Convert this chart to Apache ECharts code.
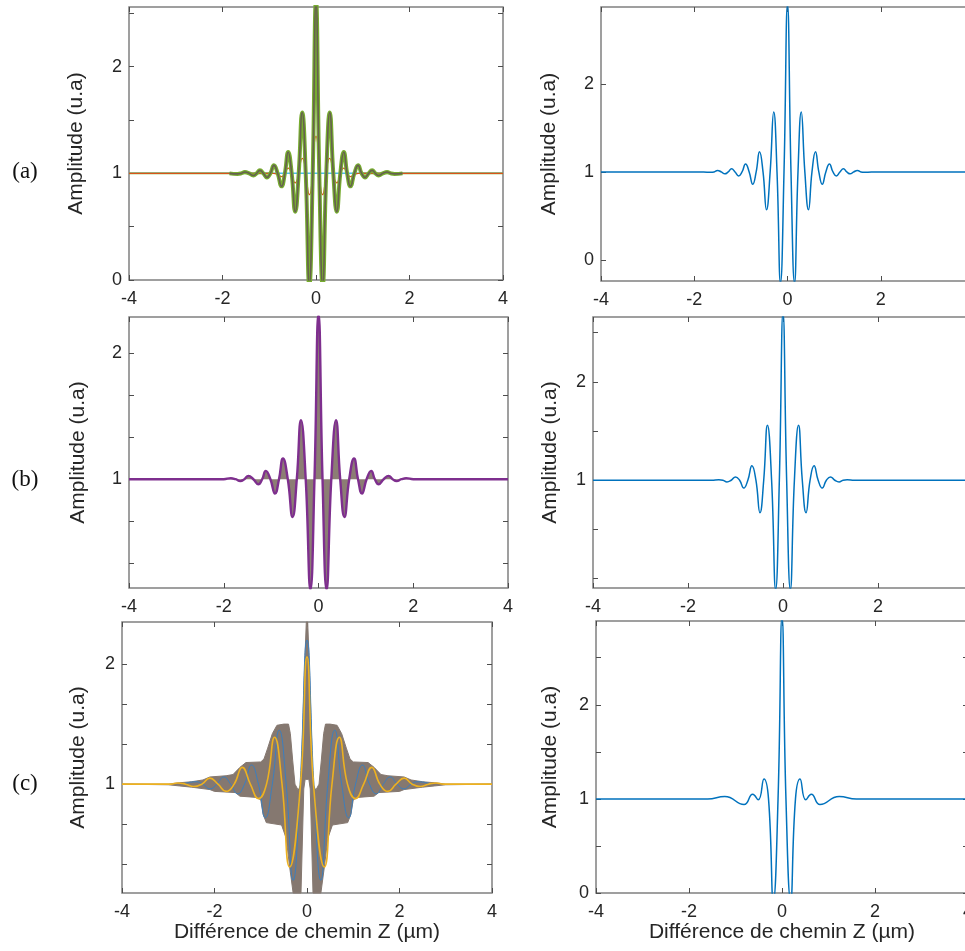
<!DOCTYPE html>
<html>
<head>
<meta charset="utf-8">
<script src="https://cdn.jsdelivr.net/npm/echarts@6.0.0/dist/echarts.min.js"></script>
<style>
  html, body { margin: 0; padding: 0; background: #fff; }
  #chart { width: 965px; height: 951px; }
</style>
</head>
<body>
<div id="chart"></div>
<script>
// ---- data (x = path difference in µm, y = amplitude) ----

// (a) left : family of curves, outer green one + inner orange one + flat blue
const aLeftOuter = [
  [-1.85, 1], [-1.68, 0.995], [-1.6, 1], [-1.52, 1.013], [-1.43, 1], [-1.34, 0.98], [-1.27, 1],
  [-1.2, 1.028], [-1.126, 1], [-1.052, 0.962], [-0.976, 1], [-0.9, 1.075], [-0.82, 1],
  [-0.737, 0.878], [-0.666, 1], [-0.595, 1.2], [-0.52, 1], [-0.445, 0.64], [-0.37, 1],
  [-0.295, 1.57], [-0.22, 1], [-0.143, -0.05], [-0.07, 1], [0, 2.62],
  [0.07, 1], [0.143, -0.05], [0.22, 1], [0.295, 1.57], [0.37, 1], [0.445, 0.64], [0.52, 1],
  [0.595, 1.2], [0.666, 1], [0.737, 0.878], [0.82, 1], [0.9, 1.075], [0.976, 1], [1.052, 0.962],
  [1.126, 1], [1.2, 1.028], [1.27, 1], [1.34, 0.98], [1.43, 1], [1.52, 1.013], [1.6, 1],
  [1.68, 0.995], [1.85, 1]
];
const aLeftInner = [
  [-4, 1], [-0.9, 1], [-0.737, 0.97], [-0.595, 1.05], [-0.445, 0.91], [-0.295, 1.14],
  [-0.143, 0.8], [0, 1.35], [0.143, 0.8], [0.295, 1.14], [0.445, 0.91], [0.595, 1.05],
  [0.737, 0.97], [0.9, 1], [4, 1]
];
const aLeftFlat = [[-4, 1], [4, 1]];
const aLeftTailL = [[-4, 1], [-1.0, 1]];
const aLeftTailR = [[1.0, 1], [4, 1]];

// (a) right
const aRight = [
  [-4, 1], [-1.8, 1], [-1.65, 0.995], [-1.575, 1], [-1.5, 1.015], [-1.42, 1], [-1.345, 0.978],
  [-1.272, 1], [-1.2, 1.035], [-1.125, 1], [-1.05, 0.955], [-0.975, 1], [-0.9, 1.09], [-0.822, 1],
  [-0.745, 0.86], [-0.672, 1], [-0.6, 1.23], [-0.525, 1], [-0.45, 0.57], [-0.372, 1],
  [-0.295, 1.68], [-0.225, 1], [-0.15, -0.26], [-0.075, 1], [0, 2.9],
  [0.075, 1], [0.15, -0.26], [0.225, 1], [0.295, 1.68], [0.372, 1], [0.45, 0.57], [0.525, 1],
  [0.6, 1.23], [0.672, 1], [0.745, 0.86], [0.822, 1], [0.9, 1.09], [0.975, 1], [1.05, 0.955],
  [1.125, 1], [1.2, 1.035], [1.272, 1], [1.345, 0.978], [1.42, 1], [1.5, 1.015], [1.575, 1],
  [1.65, 0.995], [1.8, 1], [4, 1]
];

// (b) left : outer envelope curve of the family
const bLeft = [
  [-4, 1], [-2.0, 1], [-1.85, 1.008], [-1.75, 1], [-1.65, 0.985], [-1.565, 1], [-1.48, 1.027],
  [-1.375, 1], [-1.27, 0.96], [-1.19, 1], [-1.112, 1.066], [-1.015, 1], [-0.918, 0.886],
  [-0.834, 1], [-0.75, 1.165], [-0.648, 1], [-0.547, 0.7], [-0.458, 1], [-0.37, 1.47],
  [-0.27, 1], [-0.17, 0.12], [-0.085, 1], [0, 2.32],
  [0.085, 1], [0.17, 0.12], [0.27, 1], [0.37, 1.47], [0.458, 1], [0.547, 0.7], [0.648, 1],
  [0.75, 1.165], [0.834, 1], [0.918, 0.886], [1.015, 1], [1.112, 1.066], [1.19, 1],
  [1.27, 0.96], [1.375, 1], [1.48, 1.027], [1.565, 1], [1.65, 0.985], [1.75, 1],
  [1.85, 1.008], [2.0, 1], [4, 1]
];

// (b) right
const bRight = [
  [-4, 1], [-1.5, 1], [-1.35, 1.005], [-1.265, 1], [-1.18, 0.983], [-1.09, 1], [-1.0, 1.034],
  [-0.913, 1], [-0.826, 0.92], [-0.74, 1], [-0.654, 1.146], [-0.57, 1], [-0.485, 0.67],
  [-0.406, 1], [-0.327, 1.56], [-0.24, 1], [-0.155, -0.11], [-0.077, 1], [0, 2.7],
  [0.077, 1], [0.155, -0.11], [0.24, 1], [0.327, 1.56], [0.406, 1], [0.485, 0.67], [0.57, 1],
  [0.654, 1.146], [0.74, 1], [0.826, 0.92], [0.913, 1], [1.0, 1.034], [1.09, 1],
  [1.18, 0.983], [1.265, 1], [1.35, 1.005], [1.5, 1], [4, 1]
];

// (c) left : outline of the dense band of curves, then two visible curves
const cLeftBand = [
  [-4, 1.0], [-3.0, 1.0], [-2.75, 1.012], [-2.5, 1.02], [-2.25, 1.035], [-2.1, 1.06],
  [-1.75, 1.07], [-1.6, 1.08], [-1.45, 1.14], [-1.32, 1.18], [-1.0, 1.185], [-0.93, 1.21],
  [-0.85, 1.3], [-0.75, 1.42], [-0.65, 1.49], [-0.5, 1.5], [-0.4, 1.5],
  [-0.36, 1.42], [-0.31, 1.2], [-0.26, 1.0], [-0.19, 0.95],
  [-0.13, 1.0], [-0.09, 1.5], [-0.05, 2.0], [-0.015, 2.35], [0.015, 2.35], [0.05, 2.0],
  [0.09, 1.5], [0.13, 1.0], [0.19, 0.95], [0.26, 1.0], [0.31, 1.2], [0.36, 1.42],
  [0.4, 1.5], [0.5, 1.5], [0.65, 1.49], [0.75, 1.42], [0.85, 1.3], [0.93, 1.21], [1.0, 1.185],
  [1.32, 1.18], [1.45, 1.14], [1.6, 1.08], [1.75, 1.07], [2.1, 1.06], [2.25, 1.035],
  [2.5, 1.02], [2.75, 1.012], [3.0, 1.0], [4, 1.0],
  [3.0, 0.995], [2.75, 0.985], [2.5, 0.975], [2.1, 0.955], [2.0, 0.94], [1.55, 0.93],
  [1.45, 0.9], [1.1, 0.89], [1.0, 0.87], [0.95, 0.75], [0.88, 0.68], [0.55, 0.66],
  [0.45, 0.55], [0.375, 0.31], [0.3, 0.094],
  [0.13, 0.094], [0.07, 0.96], [0.04, 1.04], [-0.04, 1.04], [-0.07, 0.96], [-0.13, 0.094],
  [-0.3, 0.094], [-0.375, 0.31], [-0.45, 0.55], [-0.55, 0.66], [-0.88, 0.68], [-0.95, 0.75],
  [-1.0, 0.87], [-1.1, 0.89], [-1.45, 0.9], [-1.55, 0.93], [-2.0, 0.94], [-2.1, 0.955],
  [-2.5, 0.975], [-2.75, 0.985], [-3.0, 0.995]
];
const cLeftYellow = [
  [-4, 1], [-2.95, 1], [-2.8, 1.01], [-2.625, 1], [-2.45, 0.98], [-2.275, 1], [-2.1, 1.05],
  [-1.925, 1], [-1.75, 0.94], [-1.575, 1], [-1.4, 1.14], [-1.225, 1], [-1.05, 0.88],
  [-0.875, 1], [-0.7, 1.39], [-0.54, 1], [-0.375, 0.31], [-0.14, 1], [0, 2.06],
  [0.14, 1], [0.375, 0.31], [0.54, 1], [0.7, 1.39], [0.875, 1], [1.05, 0.88], [1.225, 1],
  [1.4, 1.14], [1.575, 1], [1.75, 0.94], [1.925, 1], [2.1, 1.05], [2.275, 1], [2.45, 0.98],
  [2.625, 1], [2.8, 1.01], [2.95, 1], [4, 1]
];
const cLeftBlue = [
  [-2.7, 1], [-2.4, 1.02], [-2.25, 1], [-2.1, 0.96], [-1.95, 1], [-1.8, 1.06], [-1.65, 1],
  [-1.5, 0.92], [-1.35, 1], [-1.2, 1.16], [-1.05, 1], [-0.9, 0.72], [-0.75, 1], [-0.6, 1.45],
  [-0.45, 1], [-0.3, 0.2], [-0.15, 1], [0, 2.2], [0.15, 1], [0.3, 0.2], [0.45, 1], [0.6, 1.45],
  [0.75, 1], [0.9, 0.72], [1.05, 1], [1.2, 1.16], [1.35, 1], [1.5, 0.92], [1.65, 1],
  [1.8, 1.06], [1.95, 1], [2.1, 0.96], [2.25, 1], [2.4, 1.02], [2.7, 1]
];

// (c) right
const cRight = [
  [-4, 1], [-1.6, 1], [-1.23, 1.025], [-0.817, 0.94], [-0.63, 1.05], [-0.51, 0.99],
  [-0.387, 1.21], [-0.29, 1], [-0.186, -0.08], [-0.085, 1], [0, 2.93],
  [0.085, 1], [0.186, -0.08], [0.29, 1], [0.387, 1.21], [0.51, 0.99], [0.63, 1.05],
  [0.817, 0.94], [1.23, 1.025], [1.6, 1], [4, 1]
];

// axis ranges and ticks
const yRangeAL = [0, 2.56];
const yRangeAR = [-0.24, 2.875];
const yRangeBL = [0.135, 2.29];
const yRangeBR = [-0.096, 2.66];
const yRangeCL = [0.094, 2.35];
const yRangeCR = [0, 2.89];
const yTicksHalf = [0, 0.5, 1, 1.5, 2, 2.5];
const yTicksUnit = [0, 1, 2];
const yTicksThird = [1 / 3, 2 / 3, 1, 4 / 3, 5 / 3, 2];
const yLabels012 = [0, 1, 2];
const yLabels12 = [1, 2];
const rowLabels = ['(a)', '(b)', '(c)'];

// ---- layout ----
const font = '"Liberation Sans", Arial, sans-serif';
const panels = [
  { box: [129, 7, 374, 273], y: yRangeAL, ticks: yTicksHalf, labels: yLabels012, gap: 42 },
  { box: [601, 7, 373, 274], y: yRangeAR, ticks: yTicksUnit, labels: yLabels012, gap: 41 },
  { box: [129, 317, 379, 271], y: yRangeBL, ticks: yTicksThird, labels: yLabels12, gap: 40 },
  { box: [593, 317, 380, 271], y: yRangeBR, ticks: yTicksHalf, labels: yLabels12, gap: 32 },
  { box: [122, 622, 370, 271], y: yRangeCL, ticks: yTicksThird, labels: yLabels12, gap: 33, xName: true },
  { box: [596, 621, 372, 272], y: yRangeCR, ticks: yTicksHalf, labels: yLabels012, gap: 35, xName: true }
];

const option = {
  backgroundColor: '#fff',
  animation: false,
  grid: [],
  xAxis: [],
  yAxis: [],
  series: [],
  graphic: []
};

const textStyle = { fontSize: 18, color: '#262626', fontFamily: font };
const nameStyle = { fontSize: 21, color: '#262626', fontFamily: font };
const noLine = { show: false, onZero: false };

panels.forEach((p, i) => {
  option.grid.push({
    left: p.box[0], top: p.box[1], width: p.box[2], height: p.box[3],
    containLabel: false, outerBoundsMode: 'none',
    show: true, borderColor: '#808080', borderWidth: 1.5, backgroundColor: 'transparent'
  });
  const tick = { show: true, inside: true, length: 5, lineStyle: { color: '#4d4d4d', width: 1 } };
  option.xAxis.push({
    type: 'value', gridIndex: i, min: -4, max: 4, interval: 2, position: 'bottom',
    axisLine: noLine, splitLine: { show: false }, axisTick: tick,
    axisLabel: Object.assign({ margin: 10 }, textStyle),
    name: p.xName ? 'Différence de chemin Z (µm)' : '',
    nameLocation: 'middle', nameGap: 27, nameTextStyle: nameStyle
  });
  option.xAxis.push({
    type: 'value', gridIndex: i, min: -4, max: 4, interval: 2, position: 'top',
    axisLine: noLine, splitLine: { show: false }, axisTick: tick,
    axisLabel: { show: false }
  });
  option.yAxis.push({
    type: 'value', gridIndex: i, min: p.y[0], max: p.y[1], position: 'left',
    axisLine: noLine, splitLine: { show: false },
    axisTick: Object.assign({}, tick, { customValues: p.ticks }),
    axisLabel: Object.assign({ margin: 7, customValues: p.labels }, textStyle),
    name: 'Amplitude (u.a)', nameLocation: 'middle', nameGap: p.gap, nameTextStyle: nameStyle
  });
  option.yAxis.push({
    type: 'value', gridIndex: i, min: p.y[0], max: p.y[1], position: 'right',
    axisLine: noLine, splitLine: { show: false },
    axisTick: Object.assign({}, tick, { customValues: p.ticks }),
    axisLabel: { show: false }
  });
});

function line(panel, data, color, width, extra) {
  return Object.assign({
    type: 'line',
    xAxisIndex: panel * 2,
    yAxisIndex: panel * 2,
    data: data,
    showSymbol: false,
    smooth: 0.5,
    silent: true,
    lineStyle: { color: color, width: width }
  }, extra || {});
}

// (a) left
option.series.push(line(0, aLeftFlat, '#4DBEEE', 1.5, { smooth: false }));
option.series.push(line(0, aLeftTailL, '#77AC30', 1.8, { smooth: false }));
option.series.push(line(0, aLeftTailR, '#77AC30', 1.8, { smooth: false }));
option.series.push(line(0, aLeftInner, '#D95319', 1.3));
option.series.push(line(0, aLeftOuter, '#77AC30', 4));
option.series.push(line(0, aLeftOuter, '#66604f', 1.6));
// (a) right
option.series.push(line(1, aRight, '#0072BD', 1.5));
// (b) left
option.series.push(line(2, bLeft, '#7E2F8E', 2.4, {
  areaStyle: { origin: 1, color: '#8c7d74', opacity: 1 }
}));
// (b) right
option.series.push(line(3, bRight, '#0072BD', 1.5));
// (c) left
option.series.push({
  type: 'custom',
  xAxisIndex: 8,
  yAxisIndex: 8,
  silent: true,
  data: [[0, 1]],
  renderItem: function (params, api) {
    return {
      type: 'polygon',
      shape: { points: cLeftBand.map(pt => api.coord(pt)) },
      style: { fill: '#857870', stroke: '#857870', lineWidth: 1 }
    };
  }
});
option.series.push(line(4, cLeftBlue, '#3a7fc0', 1));
option.series.push(line(4, cLeftYellow, '#EDB120', 1.6));
// (c) right
option.series.push(line(5, cRight, '#0072BD', 1.5));

// row labels
const rowY = [172, 480, 784];
rowLabels.forEach((t, k) => {
  option.graphic.push({
    type: 'text', x: 25, y: rowY[k],
    style: {
      text: t, fill: '#111', fontSize: 23, fontFamily: '"Liberation Serif", "Times New Roman", serif',
      align: 'center', verticalAlign: 'middle'
    }
  });
});

const chart = echarts.init(document.getElementById('chart'), null, { renderer: 'canvas' });
chart.setOption(option);
</script>
</body>
</html>
